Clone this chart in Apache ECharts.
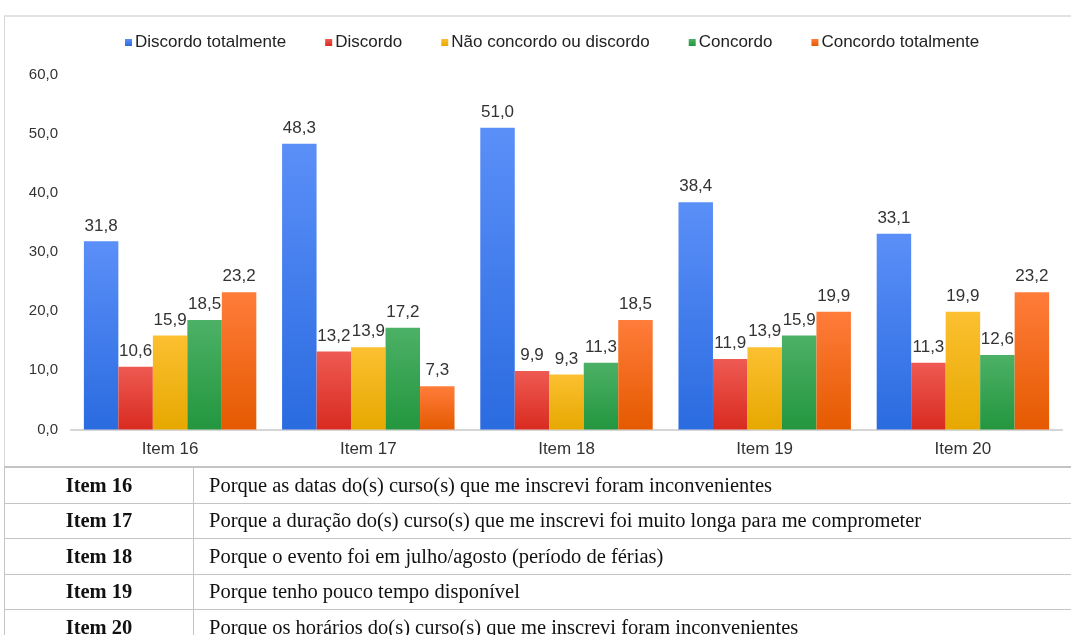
<!DOCTYPE html>
<html>
<head>
<meta charset="utf-8">
<script src="https://cdn.jsdelivr.net/npm/echarts@6/dist/echarts.min.js"></script>
<style>
  body { margin: 0; background: #fff; width: 1071px; height: 635px; overflow: hidden; position: relative; }
  #chart { position: absolute; left: 4px; top: 15px; width: 1067px; height: 450px;
    border-left: 1px solid #d8d8d8; border-top: 2px solid #e2e2e2; }
  #tbl { position: absolute; left: 4px; top: 466px; width: 1080px; border-collapse: collapse;
    font-family: "Liberation Serif", "DejaVu Serif", serif; font-size: 20.5px; color: #111; }
  #tbl td { border-top: 1px solid #c4c4c4; height: 34.5px; padding: 0; white-space: nowrap; }
  #tbl tr:first-child td { border-top: 2px solid #c4c4c4; }
  #tbl td.k { width: 188px; text-align: center; font-weight: bold; border-right: 1px solid #c4c4c4; border-left: 1px solid #c4c4c4; }
  #tbl td.v { padding-left: 15px; }
</style>
</head>
<body>
<div id="chart"></div>
<table id="tbl"></table>
<script>
var categories = ['Item 16', 'Item 17', 'Item 18', 'Item 19', 'Item 20'];
var seriesNames = ['Discordo totalmente', 'Discordo', 'Não concordo ou discordo', 'Concordo', 'Concordo totalmente'];
var discordoTotalmente = [31.8, 48.3, 51.0, 38.4, 33.1];
var discordo = [10.6, 13.2, 9.9, 11.9, 11.3];
var neutro = [15.9, 13.9, 9.3, 13.9, 19.9];
var concordo = [18.5, 17.2, 11.3, 15.9, 12.6];
var concordoTotalmente = [23.2, 7.3, 18.5, 19.9, 23.2];
var descriptions = [
  'Porque as datas do(s) curso(s) que me inscrevi foram inconvenientes',
  'Porque a duração do(s) curso(s) que me inscrevi foi muito longa para me comprometer',
  'Porque o evento foi em julho/agosto (período de férias)',
  'Porque tenho pouco tempo disponível',
  'Porque os horários do(s) curso(s) que me inscrevi foram inconvenientes'
];

var tbl = document.getElementById('tbl');
categories.forEach(function (c, i) {
  var tr = document.createElement('tr');
  tr.innerHTML = '<td class="k">' + c + '</td><td class="v">' + descriptions[i] + '</td>';
  tbl.appendChild(tr);
});

var colors = [
  ['#5b8ff8', '#2a6be0', '#4285f4'],
  ['#ee5a52', '#d92b20', '#ea4335'],
  ['#fcc031', '#e6a800', '#fbbc05'],
  ['#4cb166', '#23963f', '#34a853'],
  ['#ff7c3a', '#e55a00', '#ff6d01']
];
var values = [discordoTotalmente, discordo, neutro, concordo, concordoTotalmente];
var sans = 'Liberation Sans, Arial, sans-serif';

function fmt(v) { return v.toFixed(1).replace('.', ','); }

var chart = echarts.init(document.getElementById('chart'));
var series = values.map(function (d, i) {
  return {
    name: seriesNames[i],
    type: 'bar',
    data: d,
    barGap: '0%',
    barCategoryGap: '13%',
    itemStyle: {
      color: new echarts.graphic.LinearGradient(0, 0, 0, 1, [
        { offset: 0, color: colors[i][0] },
        { offset: 1, color: colors[i][1] }
      ])
    },
    label: {
      show: true,
      position: 'top',
      distance: 7,
      color: '#333',
      fontSize: 17,
      fontFamily: sans,
      formatter: function (p) { return fmt(p.value); }
    }
  };
});

chart.setOption({
  animation: false,
  color: colors.map(function (c) { return c[2]; }),
  legend: {
    top: 12,
    left: 115,
    itemWidth: 7,
    itemHeight: 7,
    itemGap: 39,
    icon: 'rect',
    textStyle: { color: '#222', fontSize: 17, fontFamily: sans, padding: [0, 0, 0, -2] },
    data: seriesNames
  },
  grid: { left: 66, right: 10, top: 57.5, height: 355 },
  xAxis: {
    type: 'category',
    data: categories,
    axisLine: { lineStyle: { color: '#d6d6d6', width: 2 } },
    axisTick: { show: false },
    axisLabel: { color: '#333', fontSize: 17, margin: 11, fontFamily: sans }
  },
  yAxis: {
    type: 'value',
    min: 0,
    max: 60,
    interval: 10,
    axisLine: { show: false },
    axisTick: { show: false },
    splitLine: { show: false },
    axisLabel: { color: '#333', fontSize: 15, margin: 13, fontFamily: sans,
      formatter: function (v) { return fmt(v); } }
  },
  series: series
});
</script>
</body>
</html>
